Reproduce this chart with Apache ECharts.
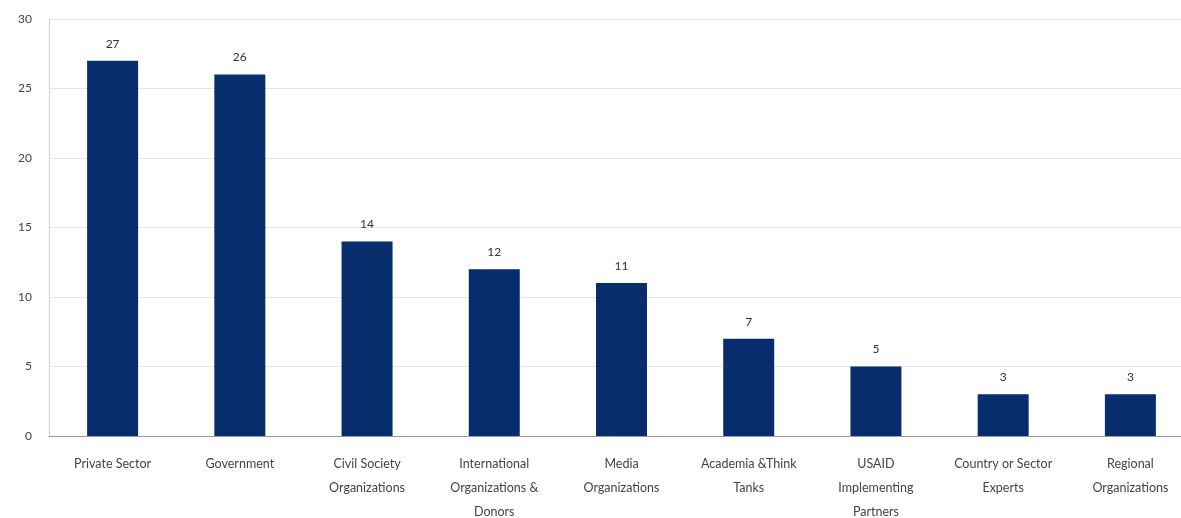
<!DOCTYPE html>
<html>
<head>
<meta charset="utf-8">
<script src="https://cdn.jsdelivr.net/npm/echarts@6/dist/echarts.min.js"></script>
<style>html,body{margin:0;padding:0;background:#fff;overflow:hidden}#c{width:1181px;height:518px}</style>
</head>
<body>
<div id="c"></div>
<script>
var categories = ['Private Sector', 'Government', 'Civil Society\nOrganizations', 'International\nOrganizations &\nDonors', 'Media\nOrganizations', 'Academia &Think\nTanks', 'USAID\nImplementing\nPartners', 'Country or Sector\nExperts', 'Regional\nOrganizations'];
var values = [27, 26, 14, 12, 11, 7, 5, 3, 3];
var yTicks = { min: 0, max: 30, interval: 5 };

var chart = echarts.init(document.getElementById('c'));
chart.setOption({
  animation: false,
  grid: { left: 49, top: 19, width: 1145, height: 417, containLabel: false, outerBoundsMode: 'none' },
  xAxis: {
    type: 'category',
    data: categories,
    axisLine: { show: true, lineStyle: { color: '#999', width: 1 } },
    axisTick: { show: false },
    axisLabel: { color: '#444', fontSize: 12.5, fontFamily: 'Lato', lineHeight: 24, margin: 16, interval: 0 }
  },
  yAxis: {
    type: 'value',
    min: yTicks.min, max: yTicks.max, interval: yTicks.interval,
    axisLine: { show: true, lineStyle: { color: '#d0d0d0', width: 1 } },
    axisTick: { show: false },
    axisLabel: { color: '#444', fontSize: 12, fontFamily: 'Lato', margin: 17 },
    splitLine: { show: true, lineStyle: { color: '#e6e6e6', width: 1 } }
  },
  series: [{
    type: 'bar',
    data: values,
    barWidth: 51,
    itemStyle: { color: '#072d6c' },
    label: { show: true, position: 'top', distance: 11, color: '#333', fontSize: 12, fontFamily: 'Lato' }
  }]
});
</script>
</body>
</html>
